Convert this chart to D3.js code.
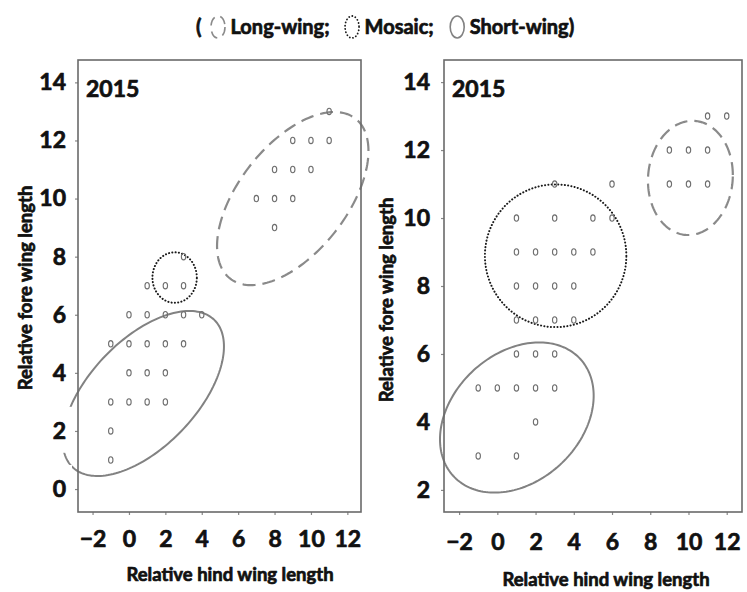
<!DOCTYPE html>
<html>
<head>
<meta charset="utf-8">
<script src="https://cdn.jsdelivr.net/npm/d3@7"></script>
<style>
  html, body { margin: 0; padding: 0; background: #fff; }
  svg { display: block; font-family: Lato, "Open Sans", sans-serif; }
  .heavy { stroke: #111; stroke-width: 0.7px; paint-order: stroke; stroke-linejoin: round; }
</style>
</head>
<body>
<svg id="chart" width="747" height="592"></svg>
<script>
// Tick values shared by both panels
const xTicks = [-2, 0, 2, 4, 6, 8, 10, 12];
const yTicksLeft = [0, 2, 4, 6, 8, 10, 12, 14];
const yTicksRight = [2, 4, 6, 8, 10, 12, 14];

// Individual measurements: [relative hind wing length, relative fore wing length]
const pointsLeft = [
  [11, 13],
  [9, 12], [10, 12], [11, 12],
  [8, 11], [9, 11], [10, 11],
  [7, 10], [8, 10], [9, 10],
  [8, 9],
  [3, 8],
  [1, 7], [2, 7], [3, 7],
  [0, 6], [1, 6], [2, 6], [3, 6], [4, 6],
  [-1, 5], [0, 5], [1, 5], [2, 5], [3, 5],
  [0, 4], [1, 4], [2, 4],
  [-1, 3], [0, 3], [1, 3], [2, 3],
  [-1, 2],
  [-1, 1]
];
const pointsRight = [
  [11, 13], [12, 13],
  [9, 12], [10, 12], [11, 12],
  [3, 11], [6, 11], [9, 11], [10, 11], [11, 11],
  [1, 10], [3, 10], [5, 10], [6, 10],
  [1, 9], [2, 9], [3, 9], [4, 9], [5, 9],
  [1, 8], [2, 8], [3, 8], [4, 8],
  [1, 7], [2, 7], [3, 7], [4, 7],
  [1, 6], [2, 6], [3, 6],
  [-1, 5], [0, 5], [1, 5], [2, 5], [3, 5],
  [2, 4],
  [-1, 3], [1, 3]
];

// Morph group outlines in data units: centre, half extents and tilt (correlation)
const morphs = ["Long-wing", "Mosaic", "Short-wing"];
const groupsLeft = [
  { morph: "Long-wing",  cx: 9.0,  cy: 10.0, rx: 4.16, ry: 2.98, rho: 0.55 },
  { morph: "Mosaic",     cx: 2.51, cy: 7.28, rx: 1.22, ry: 0.87, rho: 0.0 },
  { morph: "Short-wing", cx: 0.79, cy: 3.29, rx: 4.43, ry: 2.84, rho: 0.57 }
];
const groupsRight = [
  { morph: "Long-wing",  cx: 10.1, cy: 11.18, rx: 2.22, ry: 1.68, rho: 0.05 },
  { morph: "Mosaic",     cx: 3.05, cy: 8.89,  rx: 3.7,  ry: 2.1,  rho: 0.0 },
  { morph: "Short-wing", cx: 1.02, cy: 4.13,  rx: 4.02, ry: 2.21, rho: 0.29 }
];

const yearLabel = "2015";
const xTitle = "Relative hind wing length";
const yTitle = "Relative fore wing length";

// Outline styles per morph
const morphStyle = {
  "Long-wing":  { stroke: "#8a8a8a", width: 2.2, dash: "13,7" },
  "Mosaic":     { stroke: "#1a1a1a", width: 2.0, dash: "0.1,3.2", cap: "round" },
  "Short-wing": { stroke: "#828282", width: 2.0, dash: null }
};

const svg = d3.select("#chart");

function ellipsePoints(g) {
  const k = Math.sqrt(1 - g.rho * g.rho);
  return d3.range(0, 181).map(i => {
    const t = (i / 180) * 2 * Math.PI;
    return [g.cx + g.rx * Math.cos(t), g.cy + g.ry * (g.rho * Math.cos(t) + k * Math.sin(t))];
  });
}

function drawPanel(cfg) {
  const x = d3.scaleLinear().domain(cfg.xDomain).range([cfg.left, cfg.right]);
  const y = d3.scaleLinear().domain(cfg.yDomain).range([cfg.bottom, cfg.top]);
  const g = svg.append("g");

  // group outlines
  const line = d3.line().x(d => x(d[0])).y(d => y(d[1])).curve(d3.curveLinearClosed);
  g.selectAll("path.morph").data(cfg.groups).join("path")
    .attr("class", "morph")
    .attr("d", d => line(ellipsePoints(d)))
    .attr("fill", "none")
    .attr("stroke", d => morphStyle[d.morph].stroke)
    .attr("stroke-width", d => morphStyle[d.morph].width)
    .attr("stroke-dasharray", d => morphStyle[d.morph].dash)
    .attr("stroke-linecap", d => morphStyle[d.morph].cap || "butt");

  // individual points
  g.selectAll("ellipse.pt").data(cfg.points).join("ellipse")
    .attr("class", "pt")
    .attr("cx", d => x(d[0]))
    .attr("cy", d => y(d[1]))
    .attr("rx", 2.2)
    .attr("ry", 3.2)
    .attr("fill", "none")
    .attr("stroke", "#6f6f6f")
    .attr("stroke-width", 1.1);

  // axes
  const ax = g.append("g").attr("transform", `translate(0,${cfg.bottom})`)
    .call(d3.axisBottom(x).tickValues(xTicks).tickSize(3).tickPadding(cfg.xPad).tickFormat(d3.format("d")));
  const ay = g.append("g").attr("transform", `translate(${cfg.left},0)`)
    .call(d3.axisLeft(y).tickValues(cfg.yTicks).tickSize(3).tickPadding(cfg.yPad).tickFormat(d3.format("d")));
  [ax, ay].forEach(a => {
    a.select(".domain").remove();
    a.selectAll(".tick line").attr("stroke", "#888").attr("stroke-width", 1.2);
    a.selectAll(".tick text")
      .attr("class", "heavy")
      .attr("fill", "#111")
      .style("font-size", "23px")
      .style("font-weight", 700)
      .style("font-family", "Lato, sans-serif");
  });
  ax.selectAll(".tick text").attr("dy", "0.71em");
  // white backing behind the value labels
  ay.selectAll(".tick").each(function () {
    const t = d3.select(this).select("text");
    const b = t.node().getBBox();
    d3.select(this).insert("rect", "text")
      .attr("x", b.x - 6).attr("y", b.y - 9)
      .attr("width", b.width + 12).attr("height", b.height + 18)
      .attr("fill", "#fff");
  });

  // frame
  g.append("rect")
    .attr("x", cfg.left).attr("y", cfg.top)
    .attr("width", cfg.right - cfg.left).attr("height", cfg.bottom - cfg.top)
    .attr("fill", "none").attr("stroke", "#6a6a6a").attr("stroke-width", 1.6);

  // year tag
  g.append("text")
    .attr("class", "heavy")
    .attr("x", cfg.left + 8).attr("y", cfg.top + 37)
    .attr("fill", "#111")
    .style("font-size", "23px").style("font-weight", 700)
    .text(yearLabel);

  // axis titles
  g.append("text")
    .attr("class", "heavy")
    .attr("x", cfg.xTitleX).attr("y", cfg.xTitleY)
    .attr("text-anchor", "middle")
    .attr("fill", "#111")
    .style("font-size", "18.5px").style("font-weight", 700)
    .text(xTitle);
  g.append("text")
    .attr("class", "heavy")
    .attr("transform", `translate(${cfg.yTitleX},${cfg.yTitleY}) rotate(-90)`)
    .attr("text-anchor", "middle")
    .attr("fill", "#111")
    .style("font-size", "18.5px").style("font-weight", 700)
    .text(yTitle);
}

drawPanel({
  left: 78, right: 361, top: 60, bottom: 512,
  xDomain: [-2.8, 12.75], yDomain: [-0.79, 14.77],
  yTicks: yTicksLeft, yPad: 9, xPad: 16,
  groups: groupsLeft, points: pointsLeft,
  xTitleX: 230, xTitleY: 581, yTitleX: 32, yTitleY: 288
});
drawPanel({
  left: 444, right: 742, top: 60, bottom: 512,
  xDomain: [-2.79, 12.8], yDomain: [1.35, 14.65],
  yTicks: yTicksRight, yPad: 11, xPad: 19,
  groups: groupsRight, points: pointsRight,
  xTitleX: 606, xTitleY: 586, yTitleX: 393, yTitleY: 300
});

// legend: ( icon Long-wing;  icon Mosaic;  icon Short-wing)
const legend = svg.append("g").attr("transform", "translate(0,34)");
let cursor = 196;
function legendText(str) {
  const t = legend.append("text").attr("x", cursor).attr("y", 0)
    .attr("class", "heavy")
    .attr("fill", "#111")
    .style("font-size", "20px").style("font-weight", 700)
    .text(str);
  cursor += t.node().getComputedTextLength();
}
function legendIcon(morph) {
  const s = morphStyle[morph];
  legend.append("ellipse")
    .attr("cx", cursor + 7.5).attr("cy", -7)
    .attr("rx", 7).attr("ry", 11)
    .attr("fill", "none")
    .attr("stroke", s.stroke)
    .attr("stroke-width", morph === "Mosaic" ? 1.8 : 1.6)
    .attr("stroke-dasharray", morph === "Long-wing" ? "9,6" : s.dash)
    .attr("stroke-linecap", s.cap || "butt");
  cursor += 20;
}
legendText("(");
cursor += 9;
legendIcon(morphs[0]);
legendText("Long-wing;");
cursor += 15;
legendIcon(morphs[1]);
legendText("Mosaic;");
cursor += 16;
legendIcon(morphs[2]);
legendText("Short-wing)");
</script>
</body>
</html>
